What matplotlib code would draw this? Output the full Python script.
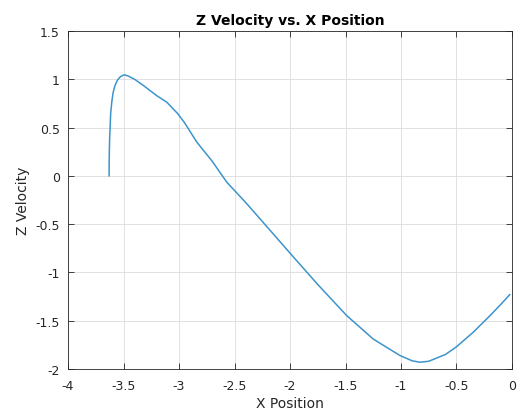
import matplotlib
matplotlib.use("Agg")
import matplotlib.pyplot as plt

x_pos = [-3.630, -3.629, -3.627, -3.624, -3.621, -3.616, -3.606, -3.594, -3.577,
         -3.555, -3.530, -3.505, -3.490, -3.460, -3.400, -3.320, -3.200, -3.110,
         -3.010, -2.950, -2.840, -2.700, -2.570, -2.400, -2.270, -2.000, -1.750,
         -1.490, -1.250, -1.010, -0.900, -0.830, -0.750, -0.600, -0.500, -0.350,
         -0.200, -0.100, -0.020]
z_vel = [0.000, 0.150, 0.300, 0.420, 0.490, 0.640, 0.763, 0.860, 0.935,
         0.990, 1.025, 1.042, 1.045, 1.035, 1.000, 0.935, 0.830, 0.763,
         0.642, 0.550, 0.350, 0.150, -0.065, -0.275, -0.445, -0.800, -1.125,
         -1.446, -1.690, -1.860, -1.915, -1.930, -1.920, -1.850, -1.770, -1.620,
         -1.450, -1.330, -1.230]

x_ticks = [-4, -3.5, -3, -2.5, -2, -1.5, -1, -0.5, 0]
x_labels = ["-4", "-3.5", "-3", "-2.5", "-2", "-1.5", "-1", "-0.5", "0"]
y_ticks = [-2, -1.5, -1, -0.5, 0, 0.5, 1, 1.5]
y_labels = ["-2", "-1.5", "-1", "-0.5", "0", "0.5", "1", "1.5"]

fig = plt.figure(figsize=(5.2, 4.14), dpi=100)
ax = fig.add_axes([0.1308, 0.1063, 0.8538, 0.8164])
ax.plot(x_pos, z_vel, color="#3d94cc", linewidth=1.1)

ax.set_xlim(-4, 0)
ax.set_ylim(-2, 1.5)
ax.set_xticks(x_ticks)
ax.set_xticklabels(x_labels)
ax.set_yticks(y_ticks)
ax.set_yticklabels(y_labels)
ax.grid(True, color="#dcdcdc", linewidth=0.6)
ax.set_axisbelow(True)
ax.tick_params(direction="in", top=True, right=True, length=4, width=0.6,
               colors="#262626", labelsize=9)
ax.tick_params(axis="x", pad=7)
ax.tick_params(axis="y", pad=6)
for s in ax.spines.values():
    s.set_color("#262626")
    s.set_linewidth(0.6)

ax.set_title("Z Velocity vs. X Position", fontsize=10, fontweight="bold", pad=5)
ax.set_xlabel("X Position", fontsize=10, color="#262626", labelpad=3)
ax.set_ylabel("Z Velocity", fontsize=10, color="#262626", labelpad=4)

fig.savefig("out.png", dpi=100)
